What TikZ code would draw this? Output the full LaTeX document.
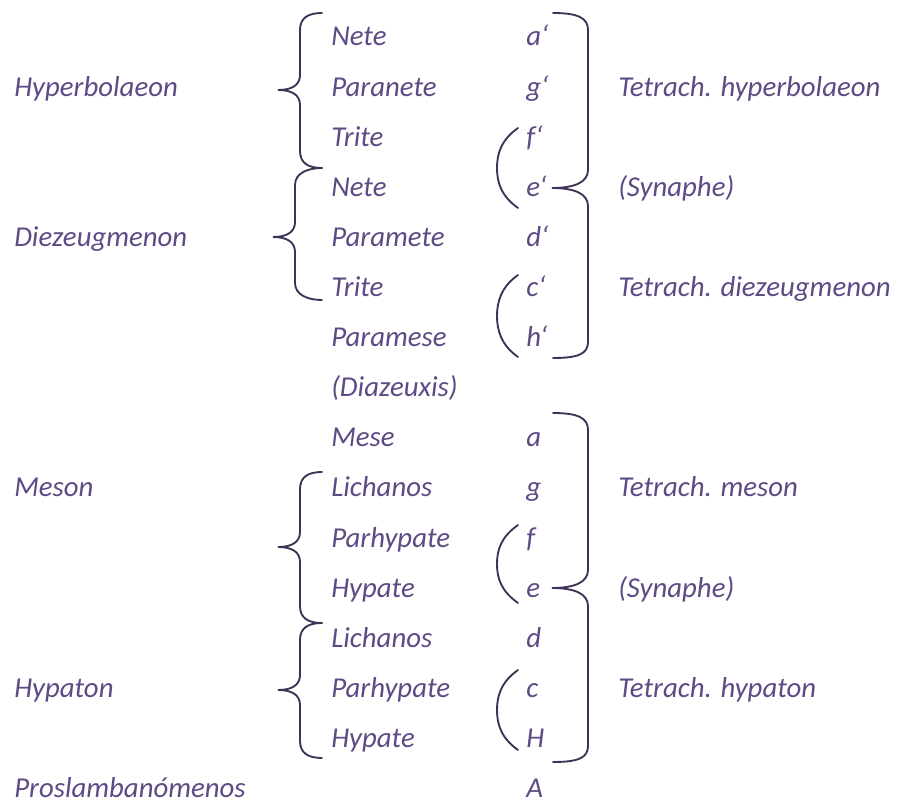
\documentclass[tikz,border=0pt]{standalone}
\usepackage{fontspec}
\setmainfont{Carlito}
\usetikzlibrary{positioning}
\definecolor{textviolet}{RGB}{94,74,132}
\definecolor{braceviolet}{RGB}{62,50,86}
\tikzset{lbl/.style={anchor=base west,inner sep=0pt,text=textviolet,font=\fontsize{21.6}{26}\selectfont\itshape},
  curl/.style={draw=braceviolet,line width=1.4pt,line cap=round}}
% left brace: top y, tip y, bottom y, x of the upright
\newcommand{\curlyleft}[4]{\draw[curl] (322,#1) .. controls (308,#1) and (#4,{#1+5}) .. (#4,{#1+17}) -- (#4,{#2-15}) .. controls (#4,{#2-5}) and ({#4-8},#2) .. ({#4-22},#2) .. controls ({#4-8},#2) and (#4,{#2+5}) .. (#4,{#2+15}) -- (#4,{#3-17}) .. controls (#4,{#3-5}) and (308,#3) .. (322,#3);}
% right double brace, tip pointing back to the left
\newcommand{\curlyright}[3]{\draw[curl] (553,#1) .. controls (578,#1) and (588,{#1+5}) .. (588,{#1+17}) -- (588,{#2-18}) .. controls (588,{#2-6}) and (575,#2) .. (552,#2) .. controls (575,#2) and (588,{#2+6}) .. (588,{#2+18}) -- (588,{#3-16}) .. controls (588,{#3-4}) and (578,#3) .. (553,#3);}
% round bracket round two notes
\newcommand{\roundleft}[2]{\draw[curl] (518,#1) .. controls (501,{#1+12}) and (497,{(#1+#2)/2-14}) .. (497,{(#1+#2)/2}) .. controls (497,{(#1+#2)/2+14}) and (501,{#2-12}) .. (518,#2);}

\begin{document}
\begin{tikzpicture}[x=0.75pt,y=-0.75pt]
\useasboundingbox (0,0) rectangle (897,802);
\foreach \t [count=\i] in {Nete,Paranete,Trite,Nete,Paramete,Trite,Paramese,{(Diazeuxis)},Mese,Lichanos,Parhypate,Hypate,Lichanos,Parhypate,Hypate}
  {\node[lbl] (string\i) at (331,{46+50.1*(\i-1)}) {\t};}
\foreach \t/\r in {a‘/1,g‘/2,f‘/3,e‘/4,d‘/5,c‘/6,h‘/7,a/9,g/10,f/11,e/12,d/13,c/14,H/15,A/16}
  {\node[lbl] (note\r) at (526,{46+50.1*(\r-1)}) {\t};}
\foreach \t/\r in {Hyperbolaeon/2,Diezeugmenon/5,Meson/10,Hypaton/14,Proslambanómenos/16}
  {\node[lbl] (system\r) at (14,{46+50.1*(\r-1)}) {\t};}
\foreach \t/\r in {Tetrach. hyperbolaeon/2,(Synaphe)/4,Tetrach. diezeugmenon/6,Tetrach. meson/10,(Synaphe)/12,Tetrach. hypaton/14}
  {\node[lbl] (tetrach\r) at (618,{46+50.1*(\r-1)}) {\t};}
\curlyleft{13}{90}{168}{300}
\curlyleft{168}{237}{300}{295}
\curlyleft{472}{547}{623}{300}
\curlyleft{623}{690}{758}{300}
\curlyright{13}{188}{358}
\curlyright{413}{588}{762}
\roundleft{128}{208}
\roundleft{275}{357}
\roundleft{525}{603}
\roundleft{670}{750}
\end{tikzpicture}
\end{document}
